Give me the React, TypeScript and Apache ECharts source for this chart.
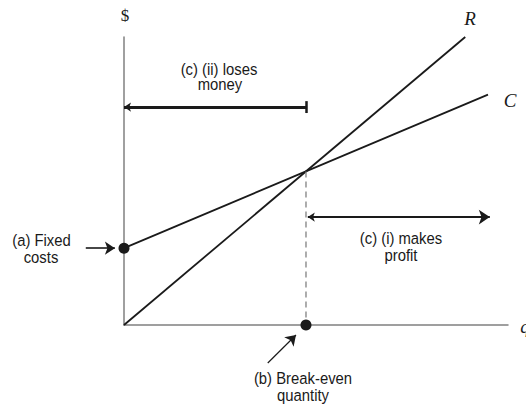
import React, { useEffect, useRef } from "react";
import * as echarts from "echarts";

// Data (quantity q, dollars $)
const revenueLine: number[][] = [[0, 0], [187.5, 1500]];
const costLine: number[][] = [[0, 400], [200, 1200]];
const breakEvenGuide: number[][] = [[100, 800], [100, 0]];
const keyPoints: number[][] = [[0, 400], [100, 0]];
const lossArrow: number[][] = [[0, 1135], [100, 1135]];
const lossBar: number[][] = [[100, 1104], [100, 1166]];
const profitArrow: number[][] = [[101, 562], [201, 562]];
const fixedArrow: number[][] = [[-21, 400], [-5, 400]];
const breakEvenArrow: number[][] = [[79, -198], [94.5, -52]];
const xMax = 211;
const yMax = 1500;

const INK = "#1a1a1a";
const AXIS = "#808080";
const SANS = "'Liberation Sans', Arial, Helvetica, sans-serif";
const SERIF = "'Liberation Serif', 'DejaVu Serif', serif";

export default function App() {
  const ref = useRef<HTMLDivElement>(null);
  useEffect(() => {
    if (!ref.current) return;
    const chart = echarts.init(ref.current, undefined, { renderer: "svg" });
    const txt = (
      text: string,
      x: number,
      y: number,
      font: string,
      size: number,
      italic = false,
      sx = 1
    ) => ({
      type: "text",
      x,
      y,
      scaleX: sx,
      style: {
        text,
        fill: INK,
        font: `${italic ? "italic " : ""}${size}px ${font}`,
        align: "center",
        verticalAlign: "middle",
      },
    });
    const label = (text: string, x: number, y: number) => txt(text, x, y, SANS, 16.5, false, 0.9);
    chart.setOption({
      animation: false,
      grid: { left: 124, right: 18, top: 37, bottom: 82 },
      xAxis: {
        type: "value",
        min: 0,
        max: xMax,
        axisLine: { show: true, lineStyle: { color: AXIS, width: 1.5 } },
        axisTick: { show: false },
        axisLabel: { show: false },
        splitLine: { show: false },
      },
      yAxis: {
        type: "value",
        min: 0,
        max: yMax,
        axisLine: { show: true, lineStyle: { color: AXIS, width: 1.5 } },
        axisTick: { show: false },
        axisLabel: { show: false },
        splitLine: { show: false },
      },
      series: [
        {
          type: "line",
          data: revenueLine,
          showSymbol: false,
          lineStyle: { color: INK, width: 1.8 },
          silent: true,
        },
        {
          type: "line",
          data: costLine,
          showSymbol: false,
          lineStyle: { color: INK, width: 1.8 },
          silent: true,
        },
        {
          type: "line",
          data: breakEvenGuide,
          showSymbol: false,
          lineStyle: { color: AXIS, width: 1.3, type: [6, 4] },
          silent: true,
        },
        {
          type: "lines",
          coordinateSystem: "cartesian2d",
          clip: false,
          symbol: ["arrow", "none"],
          symbolSize: [7, 11],
          lineStyle: { color: INK, width: 3, opacity: 1 },
          data: [{ coords: lossArrow }],
          silent: true,
        },
        {
          type: "lines",
          coordinateSystem: "cartesian2d",
          clip: false,
          symbol: ["none", "none"],
          lineStyle: { color: INK, width: 2.5, opacity: 1 },
          data: [{ coords: lossBar }],
          silent: true,
        },
        {
          type: "lines",
          coordinateSystem: "cartesian2d",
          clip: false,
          symbol: ["arrow", "arrow"],
          symbolSize: [7, 11],
          lineStyle: { color: INK, width: 2.2, opacity: 1 },
          data: [{ coords: profitArrow }],
          silent: true,
        },
        {
          type: "lines",
          coordinateSystem: "cartesian2d",
          clip: false,
          symbol: ["none", "arrow"],
          symbolSize: [6, 10],
          lineStyle: { color: INK, width: 1.6, opacity: 1 },
          data: [{ coords: fixedArrow }],
          silent: true,
        },
        {
          type: "lines",
          coordinateSystem: "cartesian2d",
          clip: false,
          symbol: ["none", "arrow"],
          symbolSize: [6, 10],
          lineStyle: { color: INK, width: 1.2, opacity: 1 },
          data: [{ coords: breakEvenArrow }],
          silent: true,
        },
        {
          type: "scatter",
          data: keyPoints,
          symbolSize: 11,
          itemStyle: { color: INK, opacity: 1 },
          clip: false,
          z: 5,
          silent: true,
        },
      ],
      graphic: [
        txt("$", 125, 15, SERIF, 17),
        txt("R", 470, 18, SERIF, 19, true),
        txt("C", 510, 100, SERIF, 19, true),
        txt("q", 525, 326, SERIF, 19, true),
        label("(c) (ii) loses", 219, 69),
        label("money", 220, 84),
        label("(c) (i) makes", 401, 238),
        label("profit", 401, 255),
        label("(a) Fixed", 41.5, 240),
        label("costs", 41, 257),
        label("(b) Break-even", 303, 378),
        label("quantity", 303, 395),
      ],
    });
    return () => chart.dispose();
  }, []);
  return (
    <div
      ref={ref}
      style={{ position: "fixed", left: 0, top: 0, width: 526, height: 407, background: "#fff" }}
    />
  );
}
